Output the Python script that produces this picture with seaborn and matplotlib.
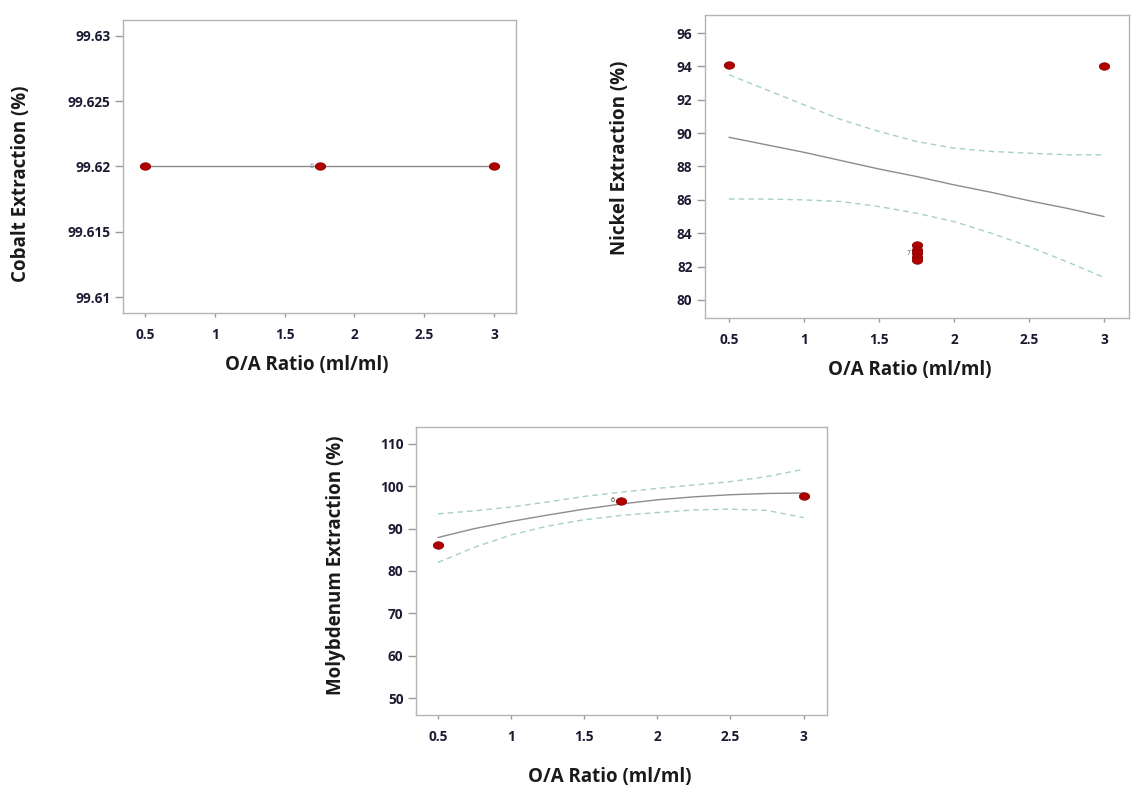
import numpy as np
import pandas as pd
import seaborn as sns
import matplotlib
matplotlib.use('Agg')
import matplotlib.pyplot as plt
from matplotlib.path import Path

# O/A ratio design points
ratio_ticks = [0.5, 1, 1.5, 2, 2.5, 3]
ratio_tick_labels = ['0.5', '1', '1.5', '2', '2.5', '3']

# Cobalt
co_x = [0.5, 1.75, 3.0]
co_y = [99.62, 99.62, 99.62]
co_fit_x = [0.5, 3.0]
co_fit_y = [99.62, 99.62]
co_yticks = [99.61, 99.615, 99.62, 99.625, 99.63]
co_ylabels = ['99.61', '99.615', '99.62', '99.625', '99.63']

# Nickel
ni_x = [0.5, 1.75, 1.75, 1.75, 1.75, 1.75, 3.0]
ni_y = [94.1, 83.3, 83.0, 82.8, 82.6, 82.4, 94.0]
curve_x = [0.5, 0.75, 1.0, 1.25, 1.5, 1.75, 2.0, 2.25, 2.5, 2.75, 3.0]
ni_fit = [89.75, 89.3, 88.85, 88.35, 87.85, 87.4, 86.9, 86.45, 85.95, 85.5, 85.0]
ni_upper = [93.5, 92.6, 91.7, 90.8, 90.1, 89.5, 89.1, 88.9, 88.8, 88.7, 88.7]
ni_lower = [86.05, 86.05, 86.0, 85.9, 85.6, 85.2, 84.7, 84.0, 83.2, 82.3, 81.35]
ni_yticks = [80, 82, 84, 86, 88, 90, 92, 94, 96]

# Molybdenum
mo_x = [0.5, 1.75, 3.0]
mo_y = [86.1, 96.6, 97.6]
mo_fit = [87.9, 90.0, 91.7, 93.2, 94.6, 95.8, 96.8, 97.5, 98.0, 98.3, 98.4]
mo_upper = [93.5, 94.2, 95.1, 96.3, 97.6, 98.6, 99.5, 100.3, 101.1, 102.3, 104.0]
mo_lower = [82.0, 85.6, 88.5, 90.6, 92.1, 93.1, 93.8, 94.4, 94.6, 94.3, 92.6]
mo_yticks = [50, 60, 70, 80, 90, 100, 110]

sns.set_style('white')
plt.rcParams['font.family'] = ['Open Sans', 'DejaVu Sans']

PT_COLOR = '#b00000'
FIT_COLOR = '#8c8c8c'
CI_COLOR = '#a6cfc8'
TICK_COLOR = '#1a1a33'

# slightly flattened dot, like the original software draws
_t = np.linspace(0, 2 * np.pi, 40)
ELLIPSE = Path(np.column_stack([np.cos(_t), 0.72 * np.sin(_t)]), closed=True)


def style_axes(ax, xlim, ylim, yticks, ylabels, ylabel, ylab_xy, xlab_xy):
    ax.set_xlim(*xlim)
    ax.set_ylim(*ylim)
    ax.set_xticks(ratio_ticks)
    ax.set_xticklabels(ratio_tick_labels)
    ax.set_yticks(yticks)
    ax.set_yticklabels(ylabels)
    for lab in ax.get_xticklabels() + ax.get_yticklabels():
        lab.set_fontweight('bold')
        lab.set_fontsize(9.8)
        lab.set_color(TICK_COLOR)
    ax.tick_params(axis='y', length=6, width=1, color='#9a9a9a', pad=3, left=True)
    ax.tick_params(axis='x', length=3, width=1, color='#9a9a9a', pad=8, bottom=True)
    for sp in ax.spines.values():
        sp.set_color('#b4b4b4')
        sp.set_linewidth(1.0)
    ax.set_xlabel('O/A Ratio (ml/ml)', fontsize=13.5, fontweight='bold', color='#1a1a1a')
    ax.set_ylabel(ylabel, fontsize=13.5, fontweight='bold', color='#1a1a1a')
    ax.xaxis.set_label_coords(*xlab_xy)
    ax.yaxis.set_label_coords(*ylab_xy)


def draw_points(ax, x, y):
    sns.scatterplot(x=x, y=y, ax=ax, color=PT_COLOR, s=55, marker=ELLIPSE,
                    edgecolor='#8a0000', linewidth=0.6, zorder=5, legend=False)


fig = plt.figure(figsize=(11.31, 7.85), dpi=100)

# Cobalt panel
ax1 = fig.add_axes([0.1088, 0.6013, 0.3475, 0.3732])
sns.lineplot(x=co_fit_x, y=co_fit_y, ax=ax1, color=FIT_COLOR, linewidth=1.0)
draw_points(ax1, co_x, co_y)
ax1.text(1.71, 99.62, '6', fontsize=5, color='#888888', ha='right', va='center')
style_axes(ax1, (0.342, 3.158), (99.6088, 99.6312), co_yticks, co_ylabels,
           'Cobalt Extraction (%)', (-0.235, 0.44), (0.468, -0.145))

# Nickel panel
ax2 = fig.add_axes([0.6233, 0.5949, 0.3749, 0.386])
sns.lineplot(x=curve_x, y=ni_fit, ax=ax2, color=FIT_COLOR, linewidth=1.0)
sns.lineplot(x=curve_x, y=ni_upper, ax=ax2, color=CI_COLOR, linewidth=1.0, linestyle=(0, (4, 3)))
sns.lineplot(x=curve_x, y=ni_lower, ax=ax2, color=CI_COLOR, linewidth=1.0, linestyle=(0, (4, 3)))
draw_points(ax2, ni_x, ni_y)
ax2.text(1.71, 82.8, '7', fontsize=5, color='#555555', ha='right', va='center')
style_axes(ax2, (0.34, 3.166), (78.92, 97.08), ni_yticks, [str(v) for v in ni_yticks],
           'Nickel Extraction (%)', (-0.176, 0.53), (0.483, -0.14))

# Molybdenum panel
ax3 = fig.add_axes([0.3678, 0.0892, 0.3634, 0.3669])
sns.lineplot(x=curve_x, y=mo_fit, ax=ax3, color=FIT_COLOR, linewidth=1.0)
sns.lineplot(x=curve_x, y=mo_upper, ax=ax3, color=CI_COLOR, linewidth=1.0, linestyle=(0, (4, 3)))
sns.lineplot(x=curve_x, y=mo_lower, ax=ax3, color=CI_COLOR, linewidth=1.0, linestyle=(0, (4, 3)))
draw_points(ax3, mo_x, mo_y)
ax3.text(1.71, 96.7, '6', fontsize=5, color='#222222', ha='right', va='center')
style_axes(ax3, (0.35, 3.16), (46.0, 114.0), mo_yticks, [str(v) for v in mo_yticks],
           'Molybdenum Extraction (%)', (-0.17, 0.52), (0.472, -0.18))

fig.savefig('out.png', dpi=100)
